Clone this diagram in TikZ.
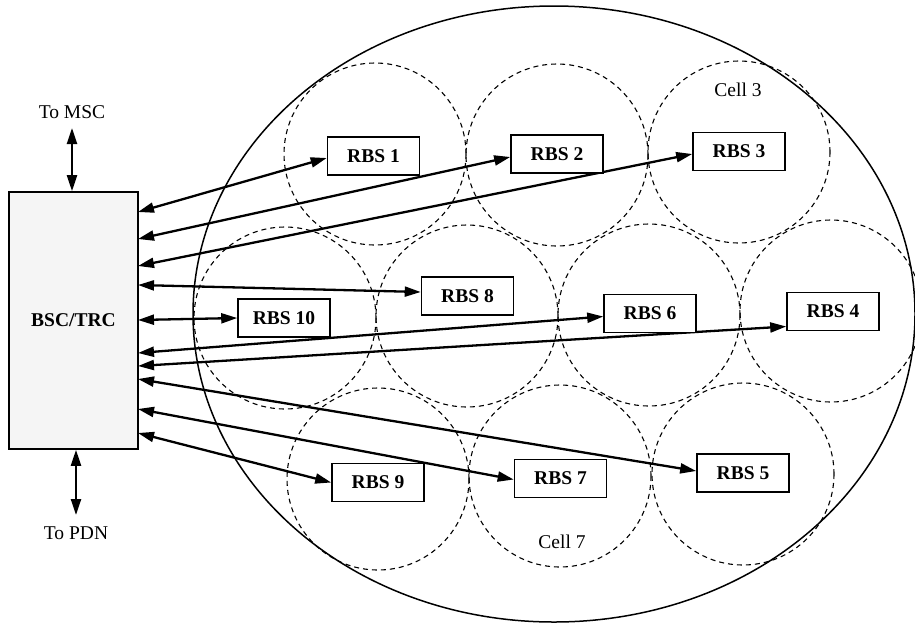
\documentclass[tikz,border=0pt]{standalone}
\usepackage{fontspec}
\setmainfont{Liberation Serif}
\usetikzlibrary{arrows.meta}
\begin{document}
\begin{tikzpicture}[x=1pt,y=-1pt,
  rbs/.style={draw, line width=1.6pt, fill=white, minimum width=92pt, minimum height=38pt, inner sep=0pt, font=\fontsize{19.5}{22}\selectfont\bfseries},
  cell/.style={draw, dash pattern=on 5pt off 4pt, line width=1.1pt},
  link/.style={line width=2.3pt, {Triangle[length=16pt,width=10pt]}-{Triangle[length=16pt,width=10pt]}},
  lbl/.style={font=\fontsize{19.5}{22}\selectfont, inner sep=0pt}]
\useasboundingbox (0,0) rectangle (915,625);

% cells
\draw[cell] (375,154) circle[radius=91];
\draw[cell] (557,155) circle[radius=91];
\draw[cell] (739,152) circle[radius=91];
\draw[cell] (285,318) circle[radius=91];
\draw[cell] (467,316) circle[radius=91];
\draw[cell] (649,315) circle[radius=91];
\draw[cell] (831,311) circle[radius=91];
\draw[cell] (378,479) circle[radius=91];
\draw[cell] (560,476) circle[radius=91];
\draw[cell] (743,474) circle[radius=91];

% coverage area
\draw[line width=1.5pt] (554,314) ellipse[x radius=361, y radius=308];

\node[lbl] (c3) at (738,90) {Cell 3};
\node[lbl] (c7) at (562,542) {Cell 7};

% controller
\node[draw, line width=1.6pt, fill=black!4, minimum width=129pt, minimum height=257pt, inner sep=0pt, font=\fontsize{19.5}{22}\selectfont\bfseries] (bsc) at (73.5,320.5) {BSC/TRC};

\node[lbl] (msclbl) at (72,112) {To MSC};
\node[lbl] (pdnlbl) at (76,533) {To PDN};
\coordinate (msc) at (72,128);
\coordinate (pdn) at (76,515);
\draw[link] (msc) -- (msc |- bsc.north);
\draw[link] (pdn |- bsc.south) -- (pdn);

% link end points on the controller
\coordinate (b1) at (138,212);
\coordinate (b2) at (138,239);
\coordinate (b3) at (138,266);
\coordinate (b8) at (138,285);
\coordinate (b10) at (138,320);
\coordinate (b6) at (138,353);
\coordinate (b4) at (138,366);
\coordinate (b5) at (138,379);
\coordinate (b7) at (138,409);
\coordinate (b9) at (138,433);

% base stations (placed first so links can reference them)
\path
  (373.5,156) node[rbs] (rbs1) {RBS 1}
  (557,154) node[rbs] (rbs2) {RBS 2}
  (739,151.5) node[rbs] (rbs3) {RBS 3}
  (467.5,296) node[rbs] (rbs8) {RBS 8}
  (650,313.5) node[rbs] (rbs6) {RBS 6}
  (833,311.5) node[rbs] (rbs4) {RBS 4}
  (284,318) node[rbs] (rbs10) {RBS 10}
  (378,482.5) node[rbs] (rbs9) {RBS 9}
  (560.5,478.5) node[rbs] (rbs7) {RBS 7}
  (743,473) node[rbs] (rbs5) {RBS 5};

\draw[link] (b1) -- ([yshift=-2pt]rbs1.west);
\draw[link] (b2) -- ([yshift=-3pt]rbs2.west);
\draw[link] (b3) -- ([yshift=-2.5pt]rbs3.west);
\draw[link] (b8) -- ([yshift=4pt]rbs8.west);
\draw[link] (b10) -- (rbs10.west);
\draw[link] (b6) -- ([yshift=-3pt]rbs6.west);
\draw[link] (b4) -- ([yshift=-15pt]rbs4.west);
\draw[link] (b5) -- ([yshift=2pt]rbs5.west);
\draw[link] (b7) -- ([yshift=-1pt]rbs7.west);
\draw[link] (b9) -- (rbs9.west);

% redraw boxes on top of the links
\path
  (373.5,156) node[rbs] {RBS 1}
  (557,154) node[rbs] {RBS 2}
  (739,151.5) node[rbs] {RBS 3}
  (467.5,296) node[rbs] {RBS 8}
  (650,313.5) node[rbs] {RBS 6}
  (833,311.5) node[rbs] {RBS 4}
  (284,318) node[rbs] {RBS 10}
  (378,482.5) node[rbs] {RBS 9}
  (560.5,478.5) node[rbs] {RBS 7}
  (743,473) node[rbs] {RBS 5};
\end{tikzpicture}
\end{document}
